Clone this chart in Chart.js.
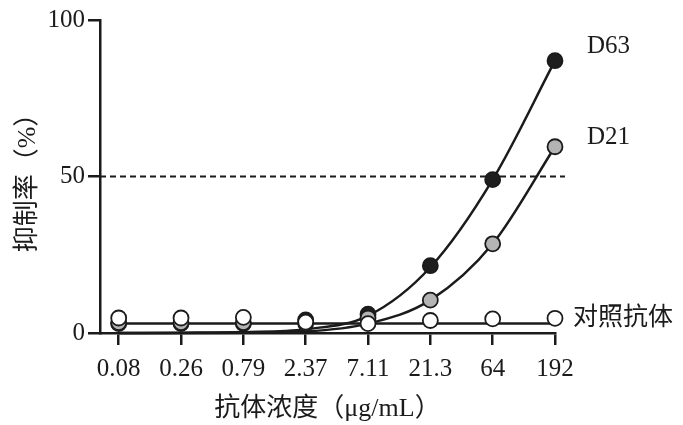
<!DOCTYPE html>
<html lang="zh-CN">
<head>
<meta charset="UTF-8">
<title>抑制率</title>
<script src="https://cdn.jsdelivr.net/npm/chart.js"></script>
<style>
    body { margin: 0; background: #fff; }
    canvas { display: block; }
</style>
</head>
<body>
<canvas id="chart" width="683" height="425"></canvas>
<script>
    // concentrations (µg/mL), one per category
    const xLabels = ['0.08', '0.26', '0.79', '2.37', '7.11', '21.3', '64', '192'];

    // measured points (%)
    const d63Points = [3.0, 3.0, 3.0, 4.2, 6.0, 21.5, 49, 87];
    const d21Points = [3.3, 3.3, 3.3, 3.0, 4.8, 10.5, 28.5, 59.5];
    const ctrlPoints = [4.8, 4.8, 5.0, 3.5, 3.0, 4.0, 4.5, 4.7];

    // fitted curves at each concentration
    const d63Fit = [0, 0.1, 0.3, 1.2, 5.5, 21, 49, 87];
    const d21Fit = [0, 0, 0.1, 0.5, 3.0, 10.5, 28.5, 59.5];
    const ctrlFit = [3, 3, 3, 3, 3, 3, 3, 3];

    const yTicks = [0, 50, 100];
    const halfLine = 50;

    const serif = '"Liberation Serif", "Noto Sans CJK SC", serif';
    const ink = '#1b1b1b';

    const toXY = arr => arr.map((v, i) => ({ x: i, y: v }));

    const curve = (data, order) => ({
        data: toXY(data),
        borderColor: ink,
        borderWidth: 2.5,
        pointRadius: 0,
        cubicInterpolationMode: 'monotone',
        clip: false,
        order: order
    });

    const dots = (data, fill, order) => ({
        data: toXY(data),
        showLine: false,
        pointRadius: 7.5,
        pointBackgroundColor: fill,
        pointBorderColor: ink,
        pointBorderWidth: 1.8,
        clip: false,
        order: order
    });

    // series names written at the right end of each series
    const endLabels = {
        id: 'endLabels',
        afterDatasetsDraw(chart) {
            const ctx = chart.ctx;
            const items = [
                { ds: 0, text: 'D63', dx: 32, dy: -14 },
                { ds: 1, text: 'D21', dx: 32, dy: -9 },
                { ds: 2, text: '对照抗体', dx: 18, dy: 0 }
            ];
            ctx.save();
            ctx.fillStyle = ink;
            ctx.font = '25px ' + serif;
            ctx.textBaseline = 'middle';
            ctx.textAlign = 'left';
            items.forEach(it => {
                const pts = chart.getDatasetMeta(it.ds).data;
                const p = pts[pts.length - 1];
                ctx.fillText(it.text, p.x + it.dx, p.y + it.dy);
            });
            ctx.restore();
        }
    };

    new Chart(document.getElementById('chart'), {
        type: 'line',
        data: {
            datasets: [
                dots(d63Points, '#1e1e1e', 2),
                dots(d21Points, '#b4b4b4', 1),
                dots(ctrlPoints, '#ffffff', 0),
                curve(d63Fit, 3),
                curve(d21Fit, 4),
                curve(ctrlFit, 5),
                {
                    data: [{ x: -0.3, y: halfLine }, { x: 7.16, y: halfLine }],
                    borderColor: ink,
                    borderWidth: 2,
                    borderDash: [6, 4],
                    pointRadius: 0,
                    clip: false,
                    order: 6
                }
            ]
        },
        options: {
            responsive: false,
            animation: false,
            layout: { padding: { left: 0, top: 20, right: 128, bottom: 0 } },
            plugins: { legend: { display: false }, tooltip: { enabled: false } },
            scales: {
                x: {
                    type: 'linear',
                    min: -0.3,
                    max: 7,
                    afterBuildTicks: s => { s.ticks = xLabels.map((_, i) => ({ value: i })); },
                    afterFit: s => { s.height = 92; },
                    border: { color: ink, width: 2.5 },
                    grid: { drawOnChartArea: false, color: ink, lineWidth: 2.5, tickLength: 12 },
                    ticks: {
                        color: ink,
                        padding: 9,
                        maxRotation: 0,
                        autoSkip: false,
                        font: { family: serif, size: 25 },
                        callback: v => xLabels[v]
                    },
                    title: {
                        display: true,
                        text: '抗体浓度（μg/mL）',
                        color: ink,
                        font: { family: serif, size: 26 },
                        padding: { top: 0, bottom: 0 }
                    }
                },
                y: {
                    min: 0,
                    max: 100,
                    afterBuildTicks: s => { s.ticks = yTicks.map(v => ({ value: v })); },
                    afterFit: s => { s.width = 100; },
                    border: { color: ink, width: 2.5 },
                    grid: { drawOnChartArea: false, color: ink, lineWidth: 2.5, tickLength: 12 },
                    ticks: {
                        color: ink,
                        padding: 3,
                        font: { family: serif, size: 25 }
                    },
                    title: {
                        display: true,
                        text: '抑制率（%）',
                        color: ink,
                        font: { family: serif, size: 26 },
                        padding: { top: 13, bottom: 0 }
                    }
                }
            }
        },
        plugins: [endLabels]
    });
</script>
</body>
</html>
